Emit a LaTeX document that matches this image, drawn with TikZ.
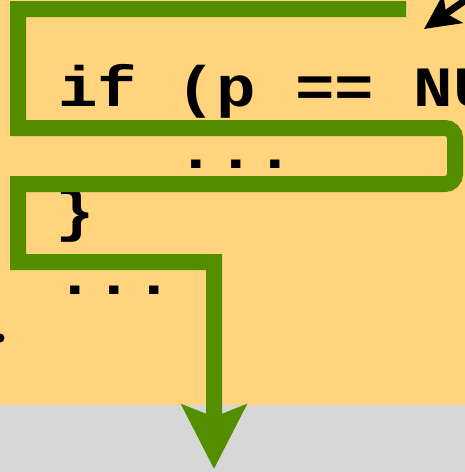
\documentclass[tikz,border=0pt]{standalone}
\usepackage{fontspec}
\newfontfamily\codefont{Liberation Mono}[FakeStretch=1.155]
\usetikzlibrary{arrows.meta}
\definecolor{pathgreen}{HTML}{528E00}
\definecolor{codebg}{HTML}{FFD47C}
\definecolor{restgray}{HTML}{D7D7D7}

\begin{document}
\begin{tikzpicture}[x=1pt, y=-1pt,
      code/.style={anchor=base west, inner sep=0pt, font=\codefont\bfseries\fontsize{57}{62}\selectfont},
      flow/.style={draw=pathgreen, line width=16pt, line join=miter},
    ]
    \useasboundingbox (0,0) rectangle (465,472);
    % background
    \fill[codebg] (0,0) rectangle (465,405);
    \fill[restgray] (0,405) rectangle (465,472);

    % code lines
    \node[code] (cond) at (58,106) {if (p == NU};
    \node[code] (body) at (176.5,168) {...};
    \node[code] (close) at (55,230) {\}};
    \node[code] (rest) at (55,294) {...};
    \fill (0,338) circle (4.5pt);

    % path taken
    \coordinate (start) at (406,9);
    \coordinate (exit) at (214,469);
    \draw[flow, -{Stealth[length=64pt, width=64pt, inset=12pt]}]
      (start) -- (18,9) -- (18,128) [rounded corners=10pt] -- (455,128) -- (455,184)
      [sharp corners] -- (18,184) -- (18,262) -- (214,262) -- (exit);

    % pointer
    \coordinate (from) at (490,-17);
    \coordinate (to) at (424,29);
    \draw[line width=7pt, -{Stealth[length=35pt, width=34pt, inset=8pt]}] (from) -- (to);
  \end{tikzpicture}
\end{document}
